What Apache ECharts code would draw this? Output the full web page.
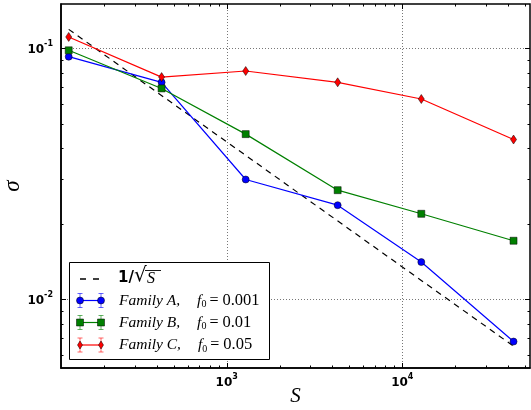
<!DOCTYPE html>
<html><head><meta charset="utf-8">
<script src="https://cdn.jsdelivr.net/npm/echarts@6/dist/echarts.min.js"></script>
<style>html,body{margin:0;padding:0;background:#fff}#c{width:531px;height:410px}</style>
</head><body><div id="c"></div>
<script>
// ---- data ----
const S = [126, 426, 1283, 4285, 12830, 43000];
const familyA = [0.0926, 0.0732, 0.0300, 0.0237, 0.01406, 0.00678];
const familyB = [0.0982, 0.0692, 0.0455, 0.0272, 0.0219, 0.0171];
const familyC = [0.111, 0.0768, 0.0812, 0.0732, 0.0628, 0.0433];
const refS = [126, 43000];
const refSigma = [0.119, 0.0065];
const xMajorTicks = [1000, 10000];
const xMinorTicks = [200,300,400,500,600,700,800,900,2000,3000,4000,5000,6000,7000,8000,9000,20000,30000,40000,50000];
const yMajorTicks = [0.01, 0.1];
const yMinorTicks = [0.006,0.007,0.008,0.009,0.02,0.03,0.04,0.05,0.06,0.07,0.08,0.09];
const xRange = [113.9, 53360];
const yRange = [0.005318, 0.1502];

const chart = echarts.init(document.getElementById('c'), null, {renderer:'canvas'});

function powLabel(v){
  const l = Math.log10(v), e = Math.round(l);
  if (Math.abs(l - e) > 1e-6) return '';
  return '{b|10}{s|' + e + '}';
}
const labelRich = {
  b:{fontFamily:'DejaVu Sans', fontWeight:'bold', fontSize:12, lineHeight:16, verticalAlign:'bottom', color:'#000'},
  s:{fontFamily:'DejaVu Sans', fontWeight:'bold', fontSize:8, lineHeight:10, verticalAlign:'top', color:'#000'}
};

const xTickData = xMajorTicks.map(v=>[v, yMajorTicks[0], 1]).concat(xMinorTicks.map(v=>[v, yMajorTicks[0], 0]));
const yTickData = yMajorTicks.map(v=>[xMajorTicks[0], v, 1]).concat(yMinorTicks.map(v=>[xMajorTicks[0], v, 0]));

function tickX(params, api){
  const cs = params.coordSys;
  const px = Math.round(api.coord([api.value(0), api.value(1)])[0]) + 0.5;
  const major = api.value(2) === 1;
  const len = major ? 5 : 2.5;
  const b = cs.y + cs.height, t = cs.y;
  const ch = [
    {type:'line', shape:{x1:px,y1:b,x2:px,y2:b-len}, style:{stroke:'#000', lineWidth:1}},
    {type:'line', shape:{x1:px,y1:t,x2:px,y2:t+len}, style:{stroke:'#000', lineWidth:1}}
  ];
  if (major) ch.unshift({type:'line', shape:{x1:px,y1:t,x2:px,y2:b}, style:{stroke:'#777', lineWidth:1, lineDash:[1,2]}});
  return {type:'group', children:ch};
}
function tickY(params, api){
  const cs = params.coordSys;
  const py = Math.round(api.coord([api.value(0), api.value(1)])[1]) + 0.5;
  const major = api.value(2) === 1;
  const len = major ? 5 : 2.5;
  const l = cs.x, r = cs.x + cs.width;
  const ch = [
    {type:'line', shape:{x1:l,y1:py,x2:l+len,y2:py}, style:{stroke:'#000', lineWidth:1}},
    {type:'line', shape:{x1:r,y1:py,x2:r-len,y2:py}, style:{stroke:'#000', lineWidth:1}}
  ];
  if (major) ch.unshift({type:'line', shape:{x1:l,y1:py,x2:r,y2:py}, style:{stroke:'#777', lineWidth:1, lineDash:[1,2]}});
  return {type:'group', children:ch};
}

function lineSeries(name, ys, color, symbol, size){
  return {
    name, type:'line', data: S.map((x,i)=>[x, ys[i]]),
    symbol, symbolSize:size, showSymbol:true, z:5,
    lineStyle:{color, width:1.2},
    itemStyle:{color, borderColor:'#000', borderWidth:0.5},
    emphasis:{disabled:true}, silent:true
  };
}

// legend graphics
const LX1 = 80, LX2 = 101;
function legendMarker(kind, x, y, color){
  if (kind==='circle') return {type:'circle', shape:{cx:x, cy:y, r:3.5}, style:{fill:color, stroke:'#000', lineWidth:0.5}};
  if (kind==='rect') return {type:'rect', shape:{x:x-3.5, y:y-3.5, width:7, height:7}, style:{fill:color, stroke:'#000', lineWidth:0.5}};
  return {type:'polygon', shape:{points:[[x,y-4],[x+2.5,y],[x,y+4],[x-2.5,y]]}, style:{fill:color, stroke:'#000', lineWidth:0.5}};
}
function legendRow(y, color, kind, label){
  const ch = [];
  ch.push({type:'line', shape:{x1:LX1,y1:y,x2:LX2,y2:y}, style:{stroke:color, lineWidth:1.2}});
  [LX1, LX2].forEach(x=>{
    ch.push({type:'line', shape:{x1:x,y1:y-7,x2:x,y2:y+7}, style:{stroke:color, lineWidth:1, opacity:0.6}});
    ch.push({type:'line', shape:{x1:x-2.5,y1:y-7,x2:x+2.5,y2:y-7}, style:{stroke:color, lineWidth:1, opacity:0.6}});
    ch.push({type:'line', shape:{x1:x-2.5,y1:y+7,x2:x+2.5,y2:y+7}, style:{stroke:color, lineWidth:1, opacity:0.6}});
    ch.push(legendMarker(kind, x, y, color));
  });
  ch.push({type:'text', x:119, y:y, style:{
    text: label, verticalAlign:'middle', align:'left',
    rich:{
      i:{fontFamily:'Liberation Serif', fontStyle:'italic', fontSize:15.5, lineHeight:18, verticalAlign:'middle', fill:'#000'},
      g:{fontSize:15, width:17, lineHeight:18},
      sub:{fontFamily:'Liberation Serif', fontSize:10, lineHeight:18, verticalAlign:'bottom', fill:'#000'},
      e:{fontFamily:'Liberation Serif', fontSize:16, lineHeight:18, verticalAlign:'middle', padding:[0,4,0,3], fill:'#000'},
      r:{fontFamily:'Liberation Serif', fontSize:16.5, lineHeight:18, verticalAlign:'middle', fill:'#000'}
    }
  }});
  return ch;
}
const legendLabels = [
  '{i|Family A,}{g| }{i|f}{sub|0}{e|=}{r|0.001}',
  '{i|Family B,}{g| }{i|f}{sub|0}{e|=}{r|0.01}',
  '{i|Family C,}{g| }{i|f}{sub|0}{e|=}{r|0.05}'
];
const legendEls = [
  {type:'rect', shape:{x:69.5, y:262.5, width:200, height:97}, style:{fill:'#fff', stroke:'#000', lineWidth:1}},
  {type:'line', shape:{x1:80, y1:279, x2:99, y2:279}, style:{stroke:'#000', lineWidth:1.5, lineDash:[6,7]}},
  {type:'text', x:118, y:278, style:{text:'1/', font:'bold 15px "DejaVu Sans"', fill:'#000', verticalAlign:'middle'}},
  {type:'text', x:134, y:276, style:{text:'√', font:'20px "DejaVu Serif"', fill:'#000', verticalAlign:'middle'}},
  {type:'line', shape:{x1:145, y1:270.5, x2:161, y2:270.5}, style:{stroke:'#000', lineWidth:0.9}},
  {type:'text', x:147, y:278.5, style:{text:'S', font:'italic 16px "Liberation Serif"', fill:'#000', verticalAlign:'middle'}}
].concat(legendRow(300.5, '#0000ff', 'circle', legendLabels[0]))
 .concat(legendRow(322.5, '#008000', 'rect', legendLabels[1]))
 .concat(legendRow(345, '#ff0000', 'diamond', legendLabels[2]));

chart.setOption({
  animation:false,
  backgroundColor:'#fff',
  grid:{left:61, top:4, width:469, height:364, outerBoundsMode:'none', containLabel:false,
    show:true, borderColor:'#000', borderWidth:1.5, backgroundColor:'transparent'},
  xAxis:{
    type:'log', logBase:10, min:xRange[0], max:xRange[1],
    name:'S', nameLocation:'middle', nameGap:18, nameMoveOverlap:false,
    nameTextStyle:{fontFamily:'Liberation Serif', fontStyle:'italic', fontSize:21, color:'#000'},
    axisLine:{show:true, lineStyle:{color:'#000', width:1.5}},
    axisTick:{show:false}, minorTick:{show:false}, splitLine:{show:false},
    axisLabel:{formatter:powLabel, rich:labelRich, margin:5, showMinLabel:true, showMaxLabel:true}
  },
  yAxis:{
    type:'log', logBase:10, min:yRange[0], max:yRange[1],
    name:'σ', nameLocation:'middle', nameGap:37, nameRotate:90, nameMoveOverlap:false,
    nameTextStyle:{fontFamily:'Liberation Serif', fontStyle:'italic', fontSize:23, color:'#000'},
    axisLine:{show:true, lineStyle:{color:'#000', width:1.5}},
    axisTick:{show:false}, minorTick:{show:false}, splitLine:{show:false},
    axisLabel:{formatter:powLabel, rich:labelRich, margin:8}
  },
  series:[
    {type:'custom', data:xTickData, renderItem:tickX, z:1, silent:true, clip:false},
    {type:'custom', data:yTickData, renderItem:tickY, z:1, silent:true, clip:false},
    {name:'1/√S', type:'line', data: refS.map((x,i)=>[x, refSigma[i]]), symbol:'none', z:4,
      lineStyle:{color:'#000', width:1.2, type:[6,5]}, emphasis:{disabled:true}, silent:true},
    lineSeries('Family A', familyA, '#0000ff', 'circle', 7),
    lineSeries('Family B', familyB, '#008000', 'rect', 7),
    lineSeries('Family C', familyC, '#ff0000', 'diamond', [6,9])
  ],
  graphic:{elements: legendEls.map(e=>Object.assign({z:100}, e))}
});
</script></body></html>
